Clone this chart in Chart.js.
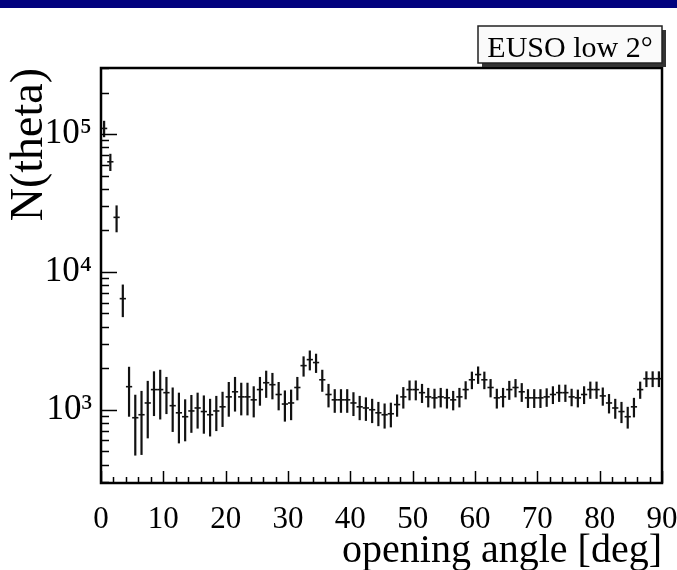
<!DOCTYPE html>
<html><head><meta charset="utf-8">
<script src="https://cdn.jsdelivr.net/npm/chart.js@4.4.1/dist/chart.umd.min.js"></script>
<style>html,body{margin:0;padding:0;background:#fff;} canvas{display:block;}</style>
</head><body>
<canvas id="c" width="677" height="570"></canvas>
<script>
const binCenters = [
  0.5, 1.5, 2.5, 3.5, 4.5, 5.5, 6.5, 7.5, 8.5, 9.5,
  10.5, 11.5, 12.5, 13.5, 14.5, 15.5, 16.5, 17.5, 18.5, 19.5,
  20.5, 21.5, 22.5, 23.5, 24.5, 25.5, 26.5, 27.5, 28.5, 29.5,
  30.5, 31.5, 32.5, 33.5, 34.5, 35.5, 36.5, 37.5, 38.5, 39.5,
  40.5, 41.5, 42.5, 43.5, 44.5, 45.5, 46.5, 47.5, 48.5, 49.5,
  50.5, 51.5, 52.5, 53.5, 54.5, 55.5, 56.5, 57.5, 58.5, 59.5,
  60.5, 61.5, 62.5, 63.5, 64.5, 65.5, 66.5, 67.5, 68.5, 69.5,
  70.5, 71.5, 72.5, 73.5, 74.5, 75.5, 76.5, 77.5, 78.5, 79.5,
  80.5, 81.5, 82.5, 83.5, 84.5, 85.5, 86.5, 87.5, 88.5, 89.5
];
const counts = [
  110000, 63000, 24900, 6400, 1470, 875, 920, 1120, 1400, 1400,
  1330, 1070, 950, 890, 980, 1030, 970, 920, 980, 1050,
  1240, 1350, 1240, 1240, 1180, 1400, 1570, 1520, 1290, 1100,
  1120, 1450, 2090, 2310, 2200, 1650, 1290, 1180, 1180, 1180,
  1120, 1050, 1030, 1000, 950, 920, 935, 1090, 1240, 1400,
  1400, 1330, 1240, 1220, 1240, 1220, 1180, 1240, 1400, 1650,
  1800, 1650, 1450, 1220, 1240, 1400, 1450, 1350, 1220, 1220,
  1220, 1240, 1290, 1330, 1330, 1240, 1220, 1290, 1400, 1400,
  1260, 1120, 1030, 970, 890, 1050, 1400, 1680, 1680, 1680
];
const errors = [
  15000, 9000, 5500, 1700, 580, 410, 450, 500, 500, 550,
  400, 380, 380, 300, 300, 300, 300, 280, 280, 300,
  350, 380, 330, 330, 300, 330, 350, 330, 300, 280,
  280, 280, 350, 380, 350, 300, 250, 230, 230, 230,
  220, 210, 200, 200, 190, 190, 190, 200, 220, 230,
  230, 210, 200, 200, 200, 200, 190, 200, 210, 240,
  260, 240, 220, 200, 200, 220, 220, 210, 190, 190,
  190, 190, 190, 190, 190, 180, 180, 190, 200, 200,
  190, 180, 170, 170, 160, 170, 200, 220, 220, 220
];
const binHalfWidth = 0.5;
const xTickValues = [0, 10, 20, 30, 40, 50, 60, 70, 80, 90];
const yTickValues = [1000, 10000, 100000];
const yTickLabels = ['10\u00B3', '10\u2074', '10\u2075'];
const legendText = 'EUSO low 2\u00B0';
const xTitle = 'opening angle [deg]';
const yTitle = 'N(theta)';
const X_MIN = 0, X_MAX = 90, Y_MIN = 294, Y_MAX = 302000;

const FONT = "'Liberation Serif', 'Times New Roman', serif";

const decor = {
  id: 'decor',
  beforeDraw(chart) {
    const ctx = chart.ctx;
    ctx.save();
    ctx.fillStyle = '#ffffff';
    ctx.fillRect(0, 0, chart.width, chart.height);
    ctx.fillStyle = '#02027e';
    ctx.fillRect(0, 0, chart.width, 8);
    ctx.restore();
  },
  afterDatasetsDraw(chart) {
    const ctx = chart.ctx;
    const xs = chart.scales.x, ys = chart.scales.y;
    const ca = chart.chartArea;
    ctx.save();
    ctx.beginPath();
    ctx.rect(ca.left, ca.top, ca.right - ca.left, ca.bottom - ca.top);
    ctx.clip();
    ctx.strokeStyle = '#111';
    for (let i = 0; i < binCenters.length; i++) {
      const c = binCenters[i], n = counts[i], e = errors[i];
      const px = xs.getPixelForValue(c);
      const py = ys.getPixelForValue(n);
      const lo = Math.max(n - e, Y_MIN * 0.5);
      ctx.lineWidth = 2.2;
      ctx.beginPath();
      ctx.moveTo(px, ys.getPixelForValue(n + e));
      ctx.lineTo(px, ys.getPixelForValue(lo));
      ctx.stroke();
      ctx.lineWidth = 1.6;
      ctx.beginPath();
      ctx.moveTo(xs.getPixelForValue(c - binHalfWidth), py);
      ctx.lineTo(xs.getPixelForValue(c + binHalfWidth), py);
      ctx.stroke();
    }
    ctx.restore();

    ctx.save();
    ctx.strokeStyle = '#000';
    ctx.lineWidth = 1.5;
    for (let v = X_MIN; v <= X_MAX; v += 2) {
      const px = Math.round(xs.getPixelForValue(v)) + 0.5;
      const len = (v % 10 === 0) ? 12 : 6;
      ctx.beginPath();
      ctx.moveTo(px, ca.bottom);
      ctx.lineTo(px, ca.bottom - len);
      ctx.stroke();
    }
    for (let d = 2; d <= 5; d++) {
      for (let m = 1; m <= 9; m++) {
        const v = m * Math.pow(10, d);
        if (v < Y_MIN || v > Y_MAX) continue;
        const py = Math.round(ys.getPixelForValue(v)) + 0.5;
        const len = (m === 1) ? 16 : 8;
        ctx.beginPath();
        ctx.moveTo(ca.left, py);
        ctx.lineTo(ca.left + len, py);
        ctx.stroke();
      }
    }
    ctx.lineWidth = 2.5;
    ctx.strokeRect(ca.left, ca.top, ca.right - ca.left, ca.bottom - ca.top);

    const bx = 478, by = 26, bw = 184, bh = 37;
    ctx.fillStyle = '#333';
    ctx.fillRect(bx + 4, by + 4, bw, bh);
    ctx.fillStyle = '#fafafa';
    ctx.fillRect(bx, by, bw, bh);
    ctx.lineWidth = 1.5;
    ctx.strokeStyle = '#222';
    ctx.strokeRect(bx, by, bw, bh);
    ctx.fillStyle = '#000';
    ctx.font = '30px ' + FONT;
    ctx.textAlign = 'center';
    ctx.textBaseline = 'alphabetic';
    ctx.fillText(legendText, bx + bw / 2, by + 31);
    ctx.restore();
  }
};

new Chart(document.getElementById('c'), {
  type: 'scatter',
  data: {
    datasets: [{
      label: legendText,
      data: binCenters.map((c, i) => ({x: c, y: counts[i]})),
      pointRadius: 0,
      showLine: false
    }]
  },
  options: {
    responsive: false,
    animation: false,
    devicePixelRatio: 1,
    layout: { padding: { top: 68, right: 0, left: 0, bottom: 0 } },
    plugins: { legend: { display: false }, tooltip: { enabled: false } },
    scales: {
      x: {
        type: 'linear', min: X_MIN, max: X_MAX,
        grid: { display: false, drawTicks: false },
        border: { display: false },
        afterBuildTicks: (s) => { s.ticks = xTickValues.map(v => ({value: v})); },
        afterFit: (s) => { s.height = 87; s.paddingRight = 15; s.paddingLeft = 0; },
        ticks: {
          autoSkip: false, maxRotation: 0, color: '#000', padding: 18,
          font: { family: FONT, size: 31 },
          callback: (v) => String(v)
        },
        title: {
          display: true, text: xTitle, align: 'end', color: '#000',
          font: { family: FONT, size: 40, lineHeight: 0.95 },
          padding: { top: 0, bottom: 0 }
        }
      },
      y: {
        type: 'logarithmic', min: Y_MIN, max: Y_MAX,
        grid: { display: false, drawTicks: false },
        border: { display: false },
        afterBuildTicks: (s) => { s.ticks = yTickValues.map(v => ({value: v, major: true})); },
        afterFit: (s) => { s.width = 101; s.paddingTop = 0; s.paddingBottom = 0; },
        ticks: {
          autoSkip: false, color: '#000', padding: 9,
          font: { family: FONT, size: 35 },
          callback: (v) => { const i = yTickValues.indexOf(v); return i >= 0 ? yTickLabels[i] : ''; }
        },
        title: {
          display: true, text: yTitle, align: 'end', color: '#000',
          font: { family: FONT, size: 46, lineHeight: 1.1 },
          padding: { top: 5, bottom: 0 }
        }
      }
    }
  },
  plugins: [decor]
});
</script>
</body></html>
